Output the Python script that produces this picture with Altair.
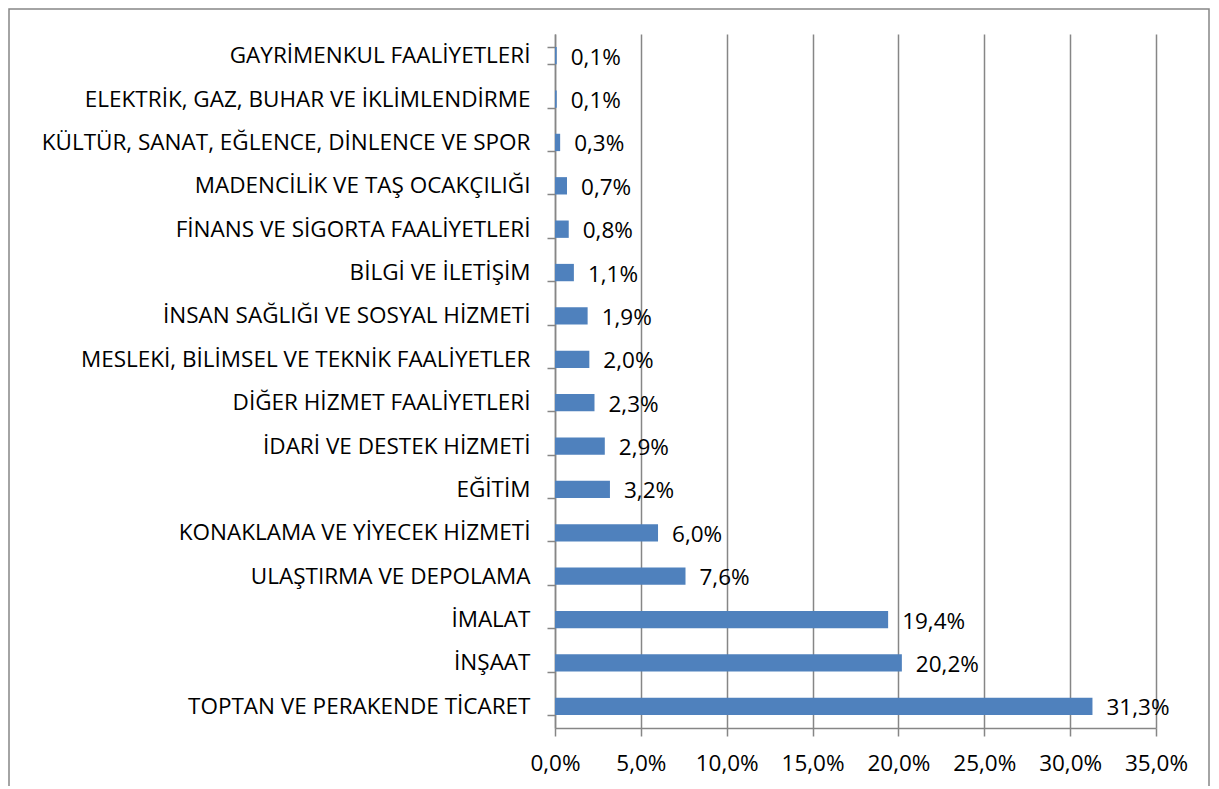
import altair as alt
import pandas as pd

categories = [
    "GAYRİMENKUL FAALİYETLERİ",
    "ELEKTRİK, GAZ, BUHAR VE İKLİMLENDİRME",
    "KÜLTÜR, SANAT, EĞLENCE, DİNLENCE VE SPOR",
    "MADENCİLİK VE TAŞ OCAKÇILIĞI",
    "FİNANS VE SİGORTA FAALİYETLERİ",
    "BİLGİ VE İLETİŞİM",
    "İNSAN SAĞLIĞI VE SOSYAL HİZMETİ",
    "MESLEKİ, BİLİMSEL VE TEKNİK FAALİYETLER",
    "DİĞER HİZMET FAALİYETLERİ",
    "İDARİ VE DESTEK HİZMETİ",
    "EĞİTİM",
    "KONAKLAMA VE YİYECEK HİZMETİ",
    "ULAŞTIRMA VE DEPOLAMA",
    "İMALAT",
    "İNŞAAT",
    "TOPTAN VE PERAKENDE TİCARET",
]
values = [0.1, 0.1, 0.3, 0.7, 0.8, 1.1, 1.9, 2.0, 2.3, 2.9, 3.2, 6.0, 7.6, 19.4, 20.2, 31.3]
x_ticks = [0, 5, 10, 15, 20, 25, 30, 35]

df = pd.DataFrame({"cat": categories, "val": values})
df["lbl"] = [f"{v:.1f}".replace(".", ",") + "%" for v in values]

FONT = "Open Sans"
FS = 22.5
W, H = 601, 694

y_enc = alt.Y("cat:N", sort=categories, title=None,
              scale=alt.Scale(paddingInner=0.6, paddingOuter=0.3),
              axis=alt.Axis(labelFont=FONT, labelFontSize=FS, labelColor="#000000",
                            labelPadding=17, tickSize=8, tickColor="#868686",
                            domainColor="#868686", domainWidth=1.5, tickWidth=1.5,
                            tickBand="extent", grid=False, labelLimit=700))
x_enc = alt.X("val:Q", title=None,
              scale=alt.Scale(domain=[0, 35], nice=False),
              axis=alt.Axis(values=x_ticks,
                            labelExpr="replace(format(datum.value, '.1f'), '.', ',') + '%'",
                            labelFont=FONT, labelFontSize=FS, labelColor="#000000",
                            labelPadding=16, tickSize=8, tickColor="#868686",
                            domainColor="#868686", domainWidth=1.5, tickWidth=1.5,
                            labelOverlap=False, labelFlush=False,
                            grid=True, gridColor="#868686", gridWidth=1.5))

bars = alt.Chart(df).mark_bar(color="#4F81BD").encode(x=x_enc, y=y_enc)
labels = alt.Chart(df).mark_text(align="left", baseline="middle", dx=14, dy=2,
                                 font=FONT, fontSize=FS, color="#000000").encode(
    x="val:Q", y=alt.Y("cat:N", sort=categories), text="lbl:N")

border = alt.Chart(pd.DataFrame({"a": [0]})).mark_rect(
    fill=None, stroke="#868686", strokeWidth=1.5).encode(
    x=alt.value(-546), x2=alt.value(654), y=alt.value(-25), y2=alt.value(770))

chart = alt.layer(border, bars, labels).properties(
    width=W, height=H,
    autosize=alt.AutoSizeParams(type="none"),
    padding={"left": 547, "top": 26, "right": 55, "bottom": 58},
).configure_view(stroke=None)

chart.save("out.html", embed_options={"renderer": "svg", "actions": False})
